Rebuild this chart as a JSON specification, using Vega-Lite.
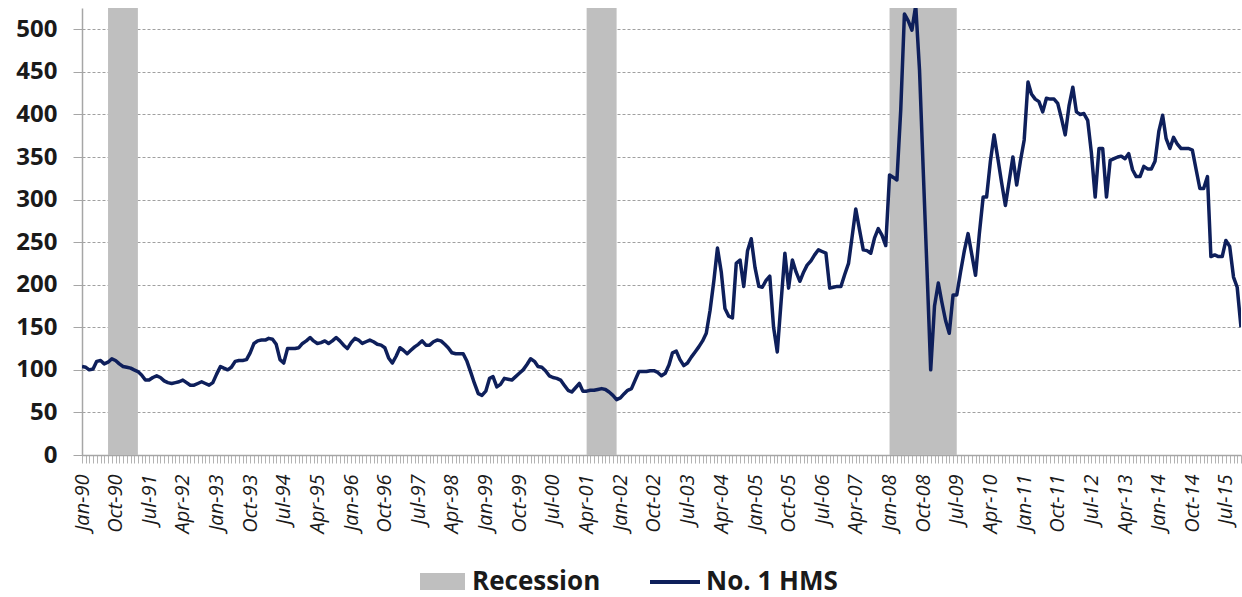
{
  "$schema": "https://vega.github.io/schema/vega-lite/v6.json",
  "width": 1159,
  "height": 447,
  "autosize": {"type": "none"},
  "padding": {"left": 82, "top": 8, "right": 1, "bottom": 142},
  "background": "white",
  "config": {"view": {"stroke": null}, "font": "Open Sans"},
  "encoding": {
    "x": {
      "field": "date",
      "type": "temporal",
      "scale": {"type": "utc", "domain": [{"year": 1990, "month": 1, "date": 1, "utc": true}, {"year": 2015, "month": 11, "date": 1, "utc": true}]},
      "axis": {
        "title": null,
        "grid": false,
        "tickCount": {"interval": "month", "step": 1},
        "labelExpr": "((utcyear(datum.value)-1990)*12+utcmonth(datum.value))%9==0 ? utcFormat(datum.value,'%b-%y') : ''",
        "labelAngle": -90,
        "labelAlign": "right",
        "labelBaseline": "middle",
        "labelFont": "Open Sans",
        "labelFontSize": 20,
        "labelFontStyle": "italic",
        "labelColor": "#1a1a1a",
        "labelPadding": 11,
        "labelOverlap": false,
        "labelFlush": false,
        "labelBound": false,
        "tickSize": 8,
        "tickColor": "#b3b3b3",
        "domainColor": "#a6a6a6",
        "domainWidth": 1.5
      }
    }
  },
  "layer": [
    {
      "data": {"values": [
        {"date": "1990-08-01", "end": "1991-04-01"},
        {"date": "2001-04-01", "end": "2001-12-01"},
        {"date": "2008-01-01", "end": "2009-07-01"}
      ]},
      "mark": {"type": "rect"},
      "encoding": {
        "x2": {"field": "end"},
        "fill": {
          "datum": "Recession",
          "type": "nominal",
          "scale": {"range": ["#bfbfbf"]},
          "legend": {
            "orient": "none", "legendX": 338, "legendY": 551, "title": null, "padding": 0,
            "symbolType": "M-1,-0.38H1V0.38H-1Z", "symbolSize": 2025, "symbolStrokeWidth": 0,
            "labelFont": "Open Sans", "labelFontSize": 26, "labelFontWeight": "bold", "labelColor": "#1a1a1a", "labelOffset": 7
          }
        }
      }
    },
    {
      "data": {"values": [
        {"date":"1990-01-01","value":104},{"date":"1990-02-01","value":103},{"date":"1990-03-01","value":100},{"date":"1990-04-01","value":101},{"date":"1990-05-01","value":110},{"date":"1990-06-01","value":111},{"date":"1990-07-01","value":107},{"date":"1990-08-01","value":109},{"date":"1990-09-01","value":113},{"date":"1990-10-01","value":111},{"date":"1990-11-01","value":107},{"date":"1990-12-01","value":104},
        {"date":"1991-01-01","value":103},{"date":"1991-02-01","value":102},{"date":"1991-03-01","value":100},{"date":"1991-04-01","value":98},{"date":"1991-05-01","value":94},{"date":"1991-06-01","value":88},{"date":"1991-07-01","value":88},{"date":"1991-08-01","value":91},{"date":"1991-09-01","value":93},{"date":"1991-10-01","value":91},{"date":"1991-11-01","value":87},{"date":"1991-12-01","value":85},
        {"date":"1992-01-01","value":84},{"date":"1992-02-01","value":85},{"date":"1992-03-01","value":86},{"date":"1992-04-01","value":88},{"date":"1992-05-01","value":85},{"date":"1992-06-01","value":82},{"date":"1992-07-01","value":82},{"date":"1992-08-01","value":84},{"date":"1992-09-01","value":86},{"date":"1992-10-01","value":84},{"date":"1992-11-01","value":82},{"date":"1992-12-01","value":85},
        {"date":"1993-01-01","value":95},{"date":"1993-02-01","value":104},{"date":"1993-03-01","value":102},{"date":"1993-04-01","value":100},{"date":"1993-05-01","value":103},{"date":"1993-06-01","value":110},{"date":"1993-07-01","value":111},{"date":"1993-08-01","value":111},{"date":"1993-09-01","value":112},{"date":"1993-10-01","value":120},{"date":"1993-11-01","value":131},{"date":"1993-12-01","value":134},
        {"date":"1994-01-01","value":135},{"date":"1994-02-01","value":135},{"date":"1994-03-01","value":137},{"date":"1994-04-01","value":136},{"date":"1994-05-01","value":130},{"date":"1994-06-01","value":112},{"date":"1994-07-01","value":108},{"date":"1994-08-01","value":125},{"date":"1994-09-01","value":125},{"date":"1994-10-01","value":125},{"date":"1994-11-01","value":126},{"date":"1994-12-01","value":131},
        {"date":"1995-01-01","value":134},{"date":"1995-02-01","value":138},{"date":"1995-03-01","value":134},{"date":"1995-04-01","value":131},{"date":"1995-05-01","value":132},{"date":"1995-06-01","value":134},{"date":"1995-07-01","value":131},{"date":"1995-08-01","value":134},{"date":"1995-09-01","value":138},{"date":"1995-10-01","value":134},{"date":"1995-11-01","value":129},{"date":"1995-12-01","value":125},
        {"date":"1996-01-01","value":132},{"date":"1996-02-01","value":137},{"date":"1996-03-01","value":135},{"date":"1996-04-01","value":131},{"date":"1996-05-01","value":133},{"date":"1996-06-01","value":135},{"date":"1996-07-01","value":133},{"date":"1996-08-01","value":130},{"date":"1996-09-01","value":129},{"date":"1996-10-01","value":126},{"date":"1996-11-01","value":114},{"date":"1996-12-01","value":108},
        {"date":"1997-01-01","value":116},{"date":"1997-02-01","value":126},{"date":"1997-03-01","value":123},{"date":"1997-04-01","value":119},{"date":"1997-05-01","value":123},{"date":"1997-06-01","value":127},{"date":"1997-07-01","value":130},{"date":"1997-08-01","value":134},{"date":"1997-09-01","value":129},{"date":"1997-10-01","value":129},{"date":"1997-11-01","value":133},{"date":"1997-12-01","value":135},
        {"date":"1998-01-01","value":134},{"date":"1998-02-01","value":130},{"date":"1998-03-01","value":126},{"date":"1998-04-01","value":120},{"date":"1998-05-01","value":119},{"date":"1998-06-01","value":119},{"date":"1998-07-01","value":119},{"date":"1998-08-01","value":110},{"date":"1998-09-01","value":97},{"date":"1998-10-01","value":84},{"date":"1998-11-01","value":72},{"date":"1998-12-01","value":70},
        {"date":"1999-01-01","value":75},{"date":"1999-02-01","value":90},{"date":"1999-03-01","value":92},{"date":"1999-04-01","value":80},{"date":"1999-05-01","value":83},{"date":"1999-06-01","value":90},{"date":"1999-07-01","value":89},{"date":"1999-08-01","value":88},{"date":"1999-09-01","value":92},{"date":"1999-10-01","value":96},{"date":"1999-11-01","value":100},{"date":"1999-12-01","value":106},
        {"date":"2000-01-01","value":113},{"date":"2000-02-01","value":110},{"date":"2000-03-01","value":104},{"date":"2000-04-01","value":103},{"date":"2000-05-01","value":99},{"date":"2000-06-01","value":93},{"date":"2000-07-01","value":91},{"date":"2000-08-01","value":90},{"date":"2000-09-01","value":88},{"date":"2000-10-01","value":82},{"date":"2000-11-01","value":76},{"date":"2000-12-01","value":74},
        {"date":"2001-01-01","value":79},{"date":"2001-02-01","value":84},{"date":"2001-03-01","value":75},{"date":"2001-04-01","value":75},{"date":"2001-05-01","value":76},{"date":"2001-06-01","value":76},{"date":"2001-07-01","value":77},{"date":"2001-08-01","value":78},{"date":"2001-09-01","value":77},{"date":"2001-10-01","value":74},{"date":"2001-11-01","value":70},{"date":"2001-12-01","value":65},
        {"date":"2002-01-01","value":67},{"date":"2002-02-01","value":72},{"date":"2002-03-01","value":76},{"date":"2002-04-01","value":78},{"date":"2002-05-01","value":88},{"date":"2002-06-01","value":98},{"date":"2002-07-01","value":98},{"date":"2002-08-01","value":98},{"date":"2002-09-01","value":99},{"date":"2002-10-01","value":99},{"date":"2002-11-01","value":97},{"date":"2002-12-01","value":93},
        {"date":"2003-01-01","value":96},{"date":"2003-02-01","value":106},{"date":"2003-03-01","value":120},{"date":"2003-04-01","value":122},{"date":"2003-05-01","value":112},{"date":"2003-06-01","value":105},{"date":"2003-07-01","value":108},{"date":"2003-08-01","value":115},{"date":"2003-09-01","value":121},{"date":"2003-10-01","value":127},{"date":"2003-11-01","value":134},{"date":"2003-12-01","value":143},
        {"date":"2004-01-01","value":170},{"date":"2004-02-01","value":205},{"date":"2004-03-01","value":243},{"date":"2004-04-01","value":215},{"date":"2004-05-01","value":172},{"date":"2004-06-01","value":163},{"date":"2004-07-01","value":161},{"date":"2004-08-01","value":225},{"date":"2004-09-01","value":229},{"date":"2004-10-01","value":198},{"date":"2004-11-01","value":240},{"date":"2004-12-01","value":254},
        {"date":"2005-01-01","value":220},{"date":"2005-02-01","value":198},{"date":"2005-03-01","value":197},{"date":"2005-04-01","value":205},{"date":"2005-05-01","value":210},{"date":"2005-06-01","value":150},{"date":"2005-07-01","value":121},{"date":"2005-08-01","value":180},{"date":"2005-09-01","value":237},{"date":"2005-10-01","value":196},{"date":"2005-11-01","value":229},{"date":"2005-12-01","value":215},
        {"date":"2006-01-01","value":204},{"date":"2006-02-01","value":215},{"date":"2006-03-01","value":223},{"date":"2006-04-01","value":228},{"date":"2006-05-01","value":235},{"date":"2006-06-01","value":241},{"date":"2006-07-01","value":239},{"date":"2006-08-01","value":237},{"date":"2006-09-01","value":196},{"date":"2006-10-01","value":197},{"date":"2006-11-01","value":198},{"date":"2006-12-01","value":198},
        {"date":"2007-01-01","value":212},{"date":"2007-02-01","value":225},{"date":"2007-03-01","value":255},{"date":"2007-04-01","value":289},{"date":"2007-05-01","value":265},{"date":"2007-06-01","value":241},{"date":"2007-07-01","value":240},{"date":"2007-08-01","value":237},{"date":"2007-09-01","value":255},{"date":"2007-10-01","value":266},{"date":"2007-11-01","value":258},{"date":"2007-12-01","value":246},
        {"date":"2008-01-01","value":329},{"date":"2008-02-01","value":326},{"date":"2008-03-01","value":323},{"date":"2008-04-01","value":405},{"date":"2008-05-01","value":518},{"date":"2008-06-01","value":510},{"date":"2008-07-01","value":499},{"date":"2008-08-01","value":528},{"date":"2008-09-01","value":452},{"date":"2008-10-01","value":335},{"date":"2008-11-01","value":217},{"date":"2008-12-01","value":100},
        {"date":"2009-01-01","value":175},{"date":"2009-02-01","value":202},{"date":"2009-03-01","value":180},{"date":"2009-04-01","value":158},{"date":"2009-05-01","value":143},{"date":"2009-06-01","value":188},{"date":"2009-07-01","value":188},{"date":"2009-08-01","value":215},{"date":"2009-09-01","value":240},{"date":"2009-10-01","value":260},{"date":"2009-11-01","value":235},{"date":"2009-12-01","value":211},
        {"date":"2010-01-01","value":260},{"date":"2010-02-01","value":303},{"date":"2010-03-01","value":303},{"date":"2010-04-01","value":345},{"date":"2010-05-01","value":376},{"date":"2010-06-01","value":348},{"date":"2010-07-01","value":320},{"date":"2010-08-01","value":293},{"date":"2010-09-01","value":322},{"date":"2010-10-01","value":350},{"date":"2010-11-01","value":317},{"date":"2010-12-01","value":345},
        {"date":"2011-01-01","value":370},{"date":"2011-02-01","value":438},{"date":"2011-03-01","value":424},{"date":"2011-04-01","value":418},{"date":"2011-05-01","value":415},{"date":"2011-06-01","value":403},{"date":"2011-07-01","value":419},{"date":"2011-08-01","value":418},{"date":"2011-09-01","value":418},{"date":"2011-10-01","value":413},{"date":"2011-11-01","value":395},{"date":"2011-12-01","value":376},
        {"date":"2012-01-01","value":410},{"date":"2012-02-01","value":432},{"date":"2012-03-01","value":403},{"date":"2012-04-01","value":400},{"date":"2012-05-01","value":401},{"date":"2012-06-01","value":393},{"date":"2012-07-01","value":355},{"date":"2012-08-01","value":303},{"date":"2012-09-01","value":360},{"date":"2012-10-01","value":360},{"date":"2012-11-01","value":303},{"date":"2012-12-01","value":346},
        {"date":"2013-01-01","value":348},{"date":"2013-02-01","value":350},{"date":"2013-03-01","value":351},{"date":"2013-04-01","value":348},{"date":"2013-05-01","value":354},{"date":"2013-06-01","value":335},{"date":"2013-07-01","value":327},{"date":"2013-08-01","value":327},{"date":"2013-09-01","value":339},{"date":"2013-10-01","value":336},{"date":"2013-11-01","value":336},{"date":"2013-12-01","value":345},
        {"date":"2014-01-01","value":380},{"date":"2014-02-01","value":399},{"date":"2014-03-01","value":372},{"date":"2014-04-01","value":360},{"date":"2014-05-01","value":373},{"date":"2014-06-01","value":365},{"date":"2014-07-01","value":360},{"date":"2014-08-01","value":360},{"date":"2014-09-01","value":360},{"date":"2014-10-01","value":358},{"date":"2014-11-01","value":335},{"date":"2014-12-01","value":313},
        {"date":"2015-01-01","value":313},{"date":"2015-02-01","value":327},{"date":"2015-03-01","value":233},{"date":"2015-04-01","value":235},{"date":"2015-05-01","value":233},{"date":"2015-06-01","value":233},{"date":"2015-07-01","value":252},{"date":"2015-08-01","value":245},{"date":"2015-09-01","value":209},{"date":"2015-10-01","value":197},{"date":"2015-11-01","value":150}
      ]},
      "mark": {"type": "line", "clip": true, "strokeWidth": 3.5, "strokeJoin": "round"},
      "encoding": {
        "y": {
          "field": "value",
          "type": "quantitative",
          "scale": {"domain": [0, 525], "nice": false, "zero": true},
          "axis": {
            "title": null,
            "values": [0, 50, 100, 150, 200, 250, 300, 350, 400, 450, 500],
            "grid": true,
            "gridDash": [3, 2],
            "gridColor": "#a0a0a0",
            "gridWidth": 1,
            "domainColor": "#a6a6a6",
            "domainWidth": 1.5,
            "tickColor": "#a6a6a6",
            "tickSize": 9,
            "labelFont": "Open Sans",
            "labelFontSize": 24,
            "labelFontWeight": "bold",
            "labelColor": "#1a1a1a",
            "labelPadding": 16
          }
        },
        "stroke": {
          "datum": "No. 1 HMS",
          "type": "nominal",
          "scale": {"range": ["#0e1f5b"]},
          "legend": {
            "orient": "none", "legendX": 566, "legendY": 547, "title": null, "padding": 0,
            "symbolType": "stroke", "symbolSize": 2500, "symbolStrokeWidth": 4,
            "labelFont": "Open Sans", "labelFontSize": 26, "labelFontWeight": "bold", "labelColor": "#1a1a1a", "labelOffset": 4,
            "encode": {"symbols": {"update": {"strokeWidth": {"value": 4}}}}
          }
        }
      }
    }
  ]
}
